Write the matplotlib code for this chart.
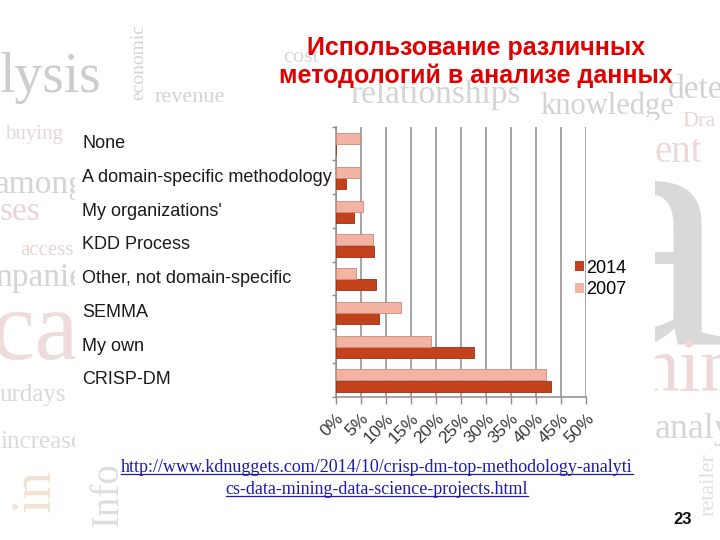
import matplotlib
matplotlib.use("Agg")
import matplotlib.pyplot as plt
import numpy as np
from matplotlib.patches import Rectangle
from matplotlib.transforms import blended_transform_factory

# data (percent of respondents)
categories = ["None", "A domain-specific methodology", "My organizations'",
              "KDD Process", "Other, not domain-specific", "SEMMA",
              "My own", "CRISP-DM"]
share_2014 = [0.0, 2.0, 3.5, 7.5, 8.0, 8.5, 27.5, 43.0]
share_2007 = [4.7, 4.7, 5.3, 7.3, 4.0, 13.0, 19.0, 42.0]
xticks = [0, 5, 10, 15, 20, 25, 30, 35, 40, 45, 50]
xtick_labels = [f"{v}%" for v in xticks]

title = "Использование различных\nметодологий в анализе данных"
url_line1 = "http://www.kdnuggets.com/2014/10/crisp-dm-top-methodology-analyti"
url_line2 = "cs-data-mining-data-science-projects.html"
page_no = "23"

# faint word-cloud background of the slide: (word, x px, y px, size, colour, rotation)
bg_words = [
    ("lysis", 0, 78, 40, "#cdcdcd", 0),
    ("economic", 130, 62, 14, "#d4d4d4", 90),
    ("revenue", 155, 98, 16, "#d2d2d2", 0),
    ("cost", 283, 58, 16, "#d6d6d6", 0),
    ("relationships", 350, 95, 24, "#d4d4d4", 0),
    ("knowledge", 540, 106, 22, "#d2d2d2", 0),
    ("dete", 668, 90, 24, "#d2d2d2", 0),
    ("Dra", 682, 122, 16, "#ead4d4", 0),
    ("ent", 655, 152, 28, "#ecd8d8", 0),
    ("a", 572, 345, 250, "#d9d9d9", 0),
    ("nin", 640, 372, 56, "#eed8d8", 0),
    ("analy", 655, 430, 26, "#d6d6d6", 0),
    ("retailer", 700, 485, 16, "#e0e0e0", 90),
    ("buying", 5, 135, 15, "#ead6d6", 0),
    ("among", -5, 185, 24, "#d4d4d4", 0),
    ("ses", 0, 212, 24, "#e8d4d4", 0),
    ("access", 20, 250, 15, "#ead4d4", 0),
    ("npanie", -5, 278, 24, "#d4d4d4", 0),
    ("ca", -10, 335, 72, "#eedcdc", 0),
    ("urdays", 0, 395, 18, "#d8d8d8", 0),
    ("increase", 0, 442, 18, "#dadada", 0),
    ("in", 10, 490, 40, "#f2e2d2", 90),
    ("Info", 90, 495, 28, "#dddddd", 90),
]

W, H = 720, 540
fig = plt.figure(figsize=(7.2, 5.4), dpi=100)
fig.patch.set_facecolor("white")

for word, px, py, size, col, rot in bg_words:
    va = "baseline" if word == "a" else "center"
    fig.text(px / W, 1 - py / H, word, fontsize=size, color=col,
             family="Liberation Serif", rotation=rot, ha="left", va=va,
             zorder=0)

# white panel behind the chart
fig.patches.append(Rectangle((75 / W, 1 - 448 / H), 580 / W, 331 / H,
                             transform=fig.transFigure, facecolor="white",
                             edgecolor="none", zorder=1))

ax = fig.add_axes([336 / W, 1 - 396.7 / H, 250 / W, 270 / H], zorder=2)
ax.patch.set_alpha(0)

y = np.arange(len(categories))
h = 0.33
c2014, c2007 = "#c2421c", "#f2b3a3"
ax.barh(y + h / 2 + 0.02, share_2014, height=h, color=c2014,
        edgecolor="#9a3010", linewidth=0.6, label="2014", zorder=3)
ax.barh(y - h / 2 + 0.02, share_2007, height=h, color=c2007,
        edgecolor="#c98a7c", linewidth=0.6, label="2007", zorder=3)

ax.set_xlim(0, 50)
ax.set_ylim(len(categories) - 0.5, -0.5)
ax.set_xticks(xticks)
ax.set_xticklabels(xtick_labels, rotation=45, ha="right",
                   rotation_mode="anchor", fontsize=12.5,
                   family="Liberation Sans", color="#383838")
ax.tick_params(axis="x", length=5, color="#8c8c8c", width=1, pad=5)
ax.set_yticks(np.arange(-0.5, len(categories)))
ax.set_yticklabels([])
ax.tick_params(axis="y", length=3, color="#8c8c8c", width=1)

ax.grid(axis="x", color="#8c8c8c", linewidth=1.1, zorder=1)
ax.set_axisbelow(True)
for side in ["top", "right"]:
    ax.spines[side].set_visible(False)
for side in ["left", "bottom"]:
    ax.spines[side].set_color("#8c8c8c")
    ax.spines[side].set_linewidth(1.1)

# category labels, left aligned in the white panel
tr = blended_transform_factory(fig.transFigure, ax.transData)
for yi, name in zip(y, categories):
    ax.text(82 / W, yi, name, transform=tr, ha="left", va="center",
            fontsize=13, family="Liberation Sans", color="#1a1a1a")

handles, labels = ax.get_legend_handles_labels()
leg = fig.legend(handles, labels, loc="center left",
                 bbox_to_anchor=(575 / W, 1 - 279 / H), frameon=False,
                 prop={"family": "Liberation Sans", "size": 13},
                 handlelength=0.5, handleheight=0.5, handletextpad=0.1,
                 labelspacing=0.25, borderpad=0, borderaxespad=0)
for hd in leg.legend_handles:
    hd.set_linewidth(0)

fig.text(476 / W, 1 - 62 / H, title, ha="center", va="center", fontsize=18,
         fontweight="bold", family="Liberation Sans", color="#e00000",
         linespacing=1.2, zorder=3)

link_color = "#1c1ca8"
for txt, cy in [(url_line1, 467), (url_line2, 489)]:
    fig.text(377 / W, 1 - cy / H, txt, ha="center", va="center",
             fontsize=13, family="Liberation Serif", color=link_color,
             zorder=3)

# underline for the link lines
fig.canvas.draw()
rend = fig.canvas.get_renderer()
for t in fig.texts[-2:]:
    bb = t.get_window_extent(rend)
    yl = bb.y0 + 2
    fig.add_artist(plt.Line2D([bb.x0 / W, bb.x1 / W], [yl / H, yl / H],
                              transform=fig.transFigure, color=link_color,
                              linewidth=0.9, zorder=3))

fig.text(683 / W, 1 - 520 / H, page_no, ha="center", va="center",
         fontsize=12, fontweight="bold", family="Liberation Sans",
         color="#111111", zorder=3)

fig.savefig("out.png", dpi=100)
